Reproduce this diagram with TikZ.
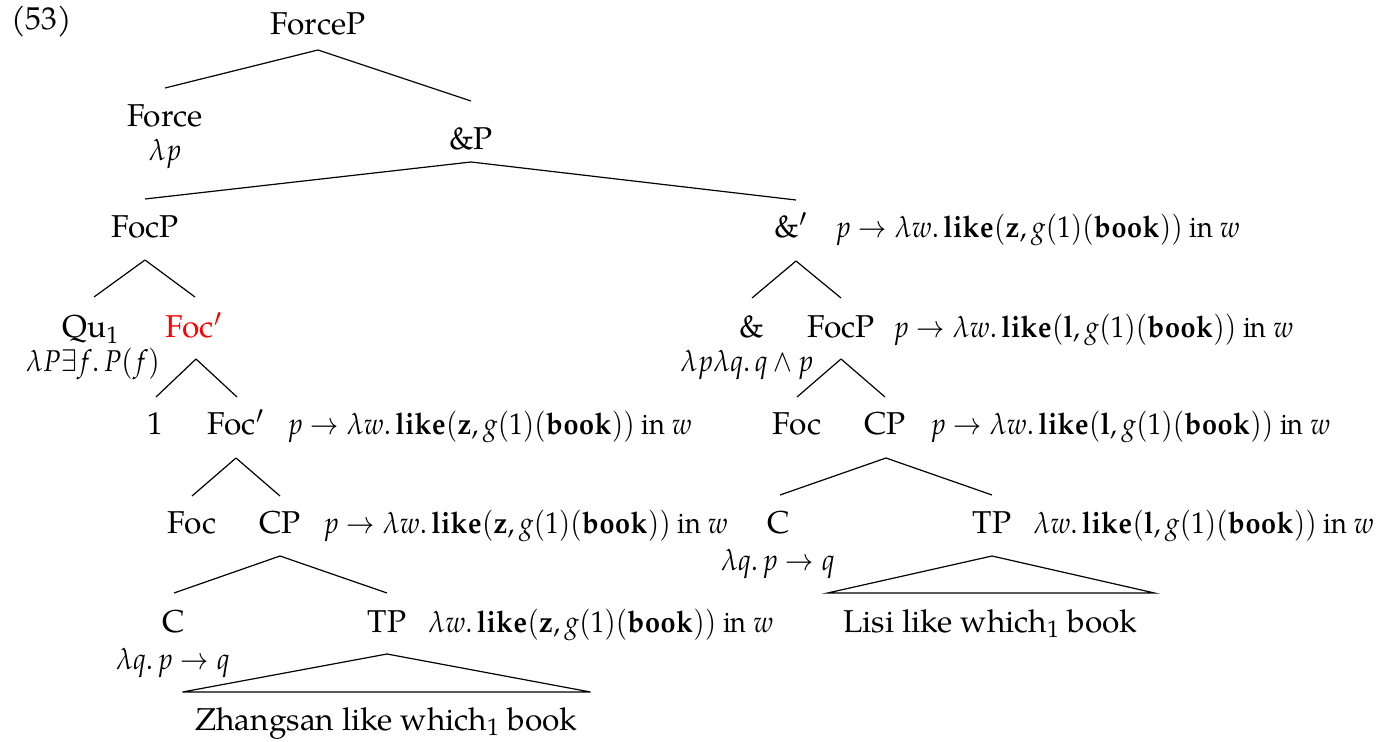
\documentclass[tikz,border=0pt]{standalone}
\usepackage{graphicx}
\usepackage{mathpazo}
\usepackage[no-math]{fontspec}
\setmainfont{TeX Gyre Pagella}
\usetikzlibrary{calc}

% denotations printed beside and below the tree nodes (set slightly narrow)
\newcommand\narrow[1]{\scalebox{0.9}[1]{#1}}
\newcommand\pLike[1]{\narrow{$p \to \lambda w.\,\mathbf{like}(\mathbf{#1}, g(1)(\mathbf{book}))$ in $w$}}
\newcommand\wLike[1]{\narrow{$\lambda w.\,\mathbf{like}(\mathbf{#1}, g(1)(\mathbf{book}))$ in $w$}}

\begin{document}
\begin{tikzpicture}[x=0.5pt,y=-0.5pt,
  every node/.style={font=\fontsize{15.8}{19}\selectfont, inner sep=0pt},
  cat/.style={anchor=base},
  sem/.style={anchor=base west, font=\fontsize{15}{18}\selectfont},
  ann/.style={anchor=base, font=\fontsize{15}{18}\selectfont},
  branch/.style={line width=0.6pt, line join=miter}]
\useasboundingbox (0,0) rectangle (1379,742);

% example number
\node[anchor=base west] (exnum) at (11,30) {(53)};

% ---------- top of the tree ----------
\node[cat] (forcep) at (318,35) {ForceP};
\node[cat] (force) at (165,127) {Force};
\node[ann] (forcesem) at (165,161) {\narrow{$\lambda p$}};
\node[cat] (andp) at (471,150) {\&P};

\draw[branch] ($(forcep.base)+(0,15)$) -- ($(force.base)+(0,-39)$);
\draw[branch] ($(forcep.base)+(0,15)$) -- ($(andp.base)+(0,-49)$);

% ---------- left conjunct ----------
\node[cat] (focpA) at (145,238) {FocP};
\draw[branch] ($(andp.base)+(0,12)$) -- ($(focpA.base)+(0,-39)$);

\node[cat] (qu) at (91,338) {Qu$_1$};
\node[ann] (qusem) at (93,372) {\narrow{$\lambda P\exists f.\,P(f)$}};
\node[cat, text=red] (focbarA) at (194,338) {Foc$'$};
\draw[branch] ($(focpA.base)+(0,22)$) -- ($(qu.base)+(3,-41)$);
\draw[branch] ($(focpA.base)+(0,22)$) -- ($(focbarA.base)+(1,-41)$);

\node[cat] (one) at (155,435) {1};
\node[cat] (focbarB) at (236,435) {Foc$'$};
\node[sem] (focbarBsem) at (287,435) {\pLike{z}};
\draw[branch] ($(focbarA.base)+(2,21)$) -- ($(one.base)+(1,-38)$);
\draw[branch] ($(focbarA.base)+(2,21)$) -- ($(focbarB.base)+(1,-38)$);

\node[cat] (focA) at (192,533) {Foc};
\node[cat] (cpA) at (280,533) {CP};
\node[sem] (cpAsem) at (323,533) {\pLike{z}};
\draw[branch] ($(focbarB.base)+(0,23)$) -- ($(focA.base)+(0,-37)$);
\draw[branch] ($(focbarB.base)+(0,23)$) -- ($(cpA.base)+(0,-37)$);

\node[cat] (cA) at (174,632) {C};
\node[ann] (cAsem) at (173,669) {\narrow{$\lambda q.\,p\to q$}};
\node[cat] (tpA) at (387,632) {TP};
\node[sem] (tpAsem) at (428,632) {\wLike{z}};
\draw[branch] ($(cpA.base)+(0,23)$) -- ($(cA.base)+(0,-39)$);
\draw[branch] ($(cpA.base)+(0,23)$) -- ($(tpA.base)+(0,-39)$);

\node[cat] (zs) at (386.5,730) {Zhangsan like which$_1$ book};
\draw[branch] ($(tpA.base)+(0,22)$) -- ($(zs.base)+(-204,-38)$)
  -- ($(zs.base)+(204,-38)$) -- cycle;

% ---------- right conjunct ----------
\node[cat] (andbar) at (791,238) {\&$'$};
\node[sem] (andbarsem) at (835,238) {\pLike{z}};
\draw[branch] ($(andp.base)+(0,12)$) -- ($(andbar.base)+(5,-38)$);

\node[cat] (amp) at (752,338) {\&};
\node[ann] (ampsem) at (747,372) {\narrow{$\lambda p\lambda q.\,q\wedge p$}};
\node[cat] (focpB) at (841,338) {FocP};
\node[sem] (focpBsem) at (893,338) {\pLike{l}};
\draw[branch] ($(andbar.base)+(5,23)$) -- ($(amp.base)+(0,-40)$);
\draw[branch] ($(andbar.base)+(5,23)$) -- ($(focpB.base)+(0,-40)$);

\node[cat] (focB) at (797,435) {Foc};
\node[cat] (cpB) at (885,435) {CP};
\node[sem] (cpBsem) at (930,435) {\pLike{l}};
\draw[branch] ($(focpB.base)+(0,21)$) -- ($(focB.base)+(0,-38)$);
\draw[branch] ($(focpB.base)+(0,21)$) -- ($(cpB.base)+(0,-38)$);

\node[cat] (cB) at (779,533) {C};
\node[ann] (cBsem) at (778,570) {\narrow{$\lambda q.\,p\to q$}};
\node[cat] (tpB) at (992,533) {TP};
\node[sem] (tpBsem) at (1033,533) {\wLike{l}};
\draw[branch] ($(cpB.base)+(1,23)$) -- ($(cB.base)+(1,-38)$);
\draw[branch] ($(cpB.base)+(1,23)$) -- ($(tpB.base)+(0,-38)$);

\node[cat] (lisi) at (990.5,632) {Lisi like which$_1$ book};
\draw[branch] ($(tpB.base)+(0,23)$) -- ($(lisi.base)+(-163,-39)$)
  -- ($(lisi.base)+(164,-39)$) -- cycle;
\end{tikzpicture}
\end{document}
